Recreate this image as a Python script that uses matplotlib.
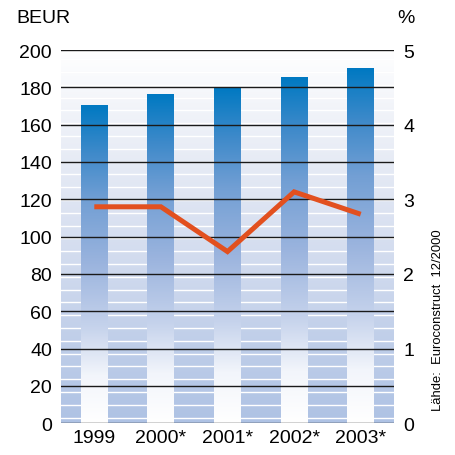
import matplotlib
matplotlib.use('Agg')
import matplotlib.pyplot as plt
import numpy as np
from matplotlib.colors import LinearSegmentedColormap

# chart data
years = ['1999', '2000*', '2001*', '2002*', '2003*']
volume_beur = [170, 176, 180, 185, 190]
growth_pct = [2.9, 2.9, 2.3, 3.1, 2.8]
left_ticks = [0, 20, 40, 60, 80, 100, 120, 140, 160, 180, 200]
right_ticks = [0, 1, 2, 3, 4, 5]

plt.rcParams['font.family'] = ['Liberation Sans', 'DejaVu Sans']

W, H = 455, 456
fig = plt.figure(figsize=(W / 100, H / 100), dpi=100)
ax = fig.add_axes([61 / W, 1 - 424.3 / H, 333 / W, 373.3 / H])

grad = np.linspace(0, 1, 256).reshape(-1, 1)

# background gradient with thin white stripes
bg_cmap = LinearSegmentedColormap.from_list(
    'bg', [(0, '#aec2e4'), (0.5, '#d7dff0'), (0.8, '#eef1f8'), (1, '#ffffff')])
ax.imshow(grad, origin='lower', extent=(0, 5, 0, 200), aspect='auto',
          cmap=bg_cmap, zorder=0)
for y in np.arange(3, 200, 6.86):
    ax.axhline(y, color='white', lw=1.0, zorder=1)

# bars with vertical gradient
bar_cmap = LinearSegmentedColormap.from_list(
    'bar', [(0, '#ffffff'), (0.15, '#f2f5fb'), (0.3, '#c6d3ec'),
            (0.5, '#9bb4de'), (0.7, '#729fd4'), (0.85, '#3f8aca'),
            (1, '#0079c2')])
x = np.arange(len(years)) + 0.5
bars = ax.bar(x, volume_beur, width=0.405, color='none', edgecolor='none')
for b in bars:
    x0 = b.get_x()
    ax.imshow(grad, origin='lower', aspect='auto', cmap=bar_cmap,
              extent=(x0, x0 + b.get_width(), 0, b.get_height()), zorder=2)

for t in left_ticks:
    ax.axhline(t, color='#1a1a1a', lw=1.0, zorder=3)

ax.set_xlim(0, 5)
ax.set_ylim(0, 200)
ax.set_xticks(x)
ax.set_xticklabels(years)
ax.set_yticks(left_ticks)
ax.tick_params(axis='y', length=0, labelsize=14, pad=6.5)
ax.tick_params(axis='x', length=0, labelsize=14, pad=4)
for s in ax.spines.values():
    s.set_visible(False)

# growth line on right axis
ax2 = ax.twinx()
ax2.plot(x, growth_pct, color='#e2501f', lw=3.6,
         solid_joinstyle='miter', solid_capstyle='butt')
ax2.set_ylim(0, 5)
ax2.set_yticks(right_ticks)
ax2.tick_params(axis='y', length=0, labelsize=14, pad=6.5)
for s in ax2.spines.values():
    s.set_visible(False)

fig.text(16 / W, 1 - 23.3 / H, 'BEUR', fontsize=14, ha='left', va='baseline')
fig.text(397 / W, 1 - 23.3 / H, '%', fontsize=14, ha='left', va='baseline')
fig.text(438 / W, 1 - 411 / H, 'Lähde:  Euroconstruct  12/2000', fontsize=9.4,
         rotation=90, ha='center', va='bottom')

fig.savefig('out.png', dpi=100)
